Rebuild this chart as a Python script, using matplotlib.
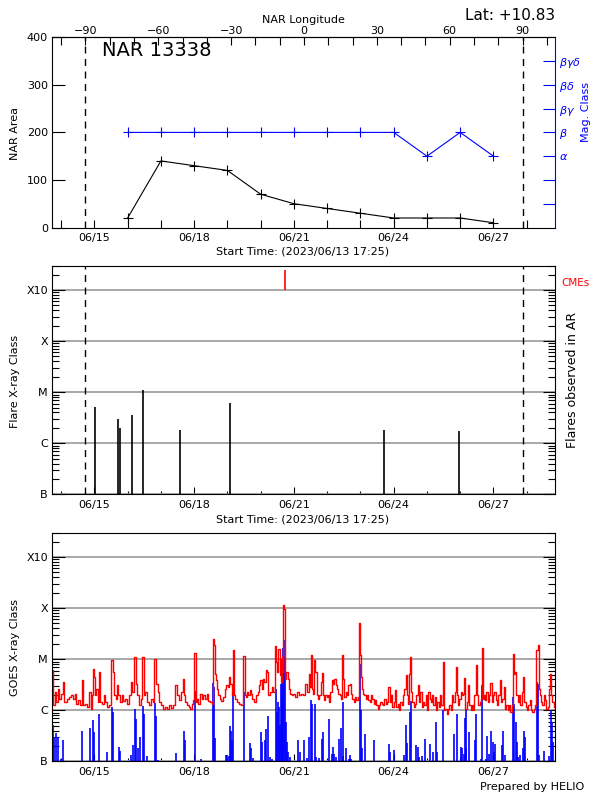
import numpy as np
import matplotlib
matplotlib.use('Agg')
import matplotlib.pyplot as plt
import matplotlib.dates as mdates
from matplotlib.ticker import FixedLocator, MultipleLocator, LogLocator, NullFormatter

# time range of the summary plot
t_start = '2023-06-13T17:25'
t_end = '2023-06-28T20:25'
limb_east = '2023-06-14T17:30'    # NAR longitude -90
limb_west = '2023-06-27T21:00'    # NAR longitude +90

# NAR 13338 daily values
nar_dates = ['2023-06-16', '2023-06-17', '2023-06-18', '2023-06-19', '2023-06-20', '2023-06-21',
             '2023-06-22', '2023-06-23', '2023-06-24', '2023-06-25', '2023-06-26', '2023-06-27']
nar_area = [20, 140, 130, 120, 70, 50, 40, 30, 20, 20, 20, 10]
mag_class = ['beta', 'beta', 'beta', 'beta', 'beta', 'beta', 'beta', 'beta', 'beta',
             'alpha', 'beta', 'alpha']
mag_names = ['', '', 'alpha', 'beta', 'beta-gamma', 'beta-delta', 'beta-gamma-delta']
mag_labels = ['', '', r'$\alpha$', r'$\beta$', r'$\beta\gamma$', r'$\beta\delta$', r'$\beta\gamma\delta$']
lon_ticks = [-90, -60, -30, 0, 30, 60, 90]

# flares observed in the AR, and CMEs
flare_times = ['2023-06-15T00:25', '2023-06-15T17:15', '2023-06-15T18:40', '2023-06-16T03:20',
               '2023-06-16T10:50', '2023-06-17T13:55', '2023-06-19T01:55', '2023-06-23T16:55',
               '2023-06-25T22:57']
flare_class = ['C5.1', 'C3.0', 'C2.0', 'C3.6', 'M1.1', 'C1.8', 'C6.2', 'C1.8', 'C1.7']
cme_times = ['2023-06-20T17:45']

class_names = ['B', 'C', 'M', 'X', 'X10']
class_flux = [1e-7, 1e-6, 1e-5, 1e-4, 1e-3]

# GOES X-ray flux, time in days from 2023-06-13 00:00, flux in uW/m^2
goes_day0 = '2023-06-13T00:00'
long_t = [0.73, 0.79, 0.84, 0.88, 0.92, 0.97, 1.02, 1.07, 1.11, 1.16,
          1.22, 1.28, 1.33, 1.38, 1.43, 1.48, 1.54, 1.60, 1.65, 1.68,
          1.75, 1.82, 1.88, 1.91, 1.94, 1.97, 2.00, 2.04, 2.08, 2.12,
          2.16, 2.20, 2.26, 2.30, 2.36, 2.42, 2.48, 2.54, 2.58, 2.62,
          2.66, 2.70, 2.75, 2.80, 2.85, 2.90, 2.96, 3.02, 3.08, 3.13,
          3.16, 3.22, 3.26, 3.30, 3.36, 3.42, 3.46, 3.50, 3.55, 3.60,
          3.66, 3.72, 3.78, 3.83, 3.88, 3.92, 3.98, 4.04, 4.10, 4.16,
          4.22, 4.28, 4.34, 4.40, 4.46, 4.52, 4.58,
          4.60, 4.63, 4.67, 4.71, 4.75, 4.81, 4.87, 4.91, 4.95, 4.99,
          5.03, 5.06, 5.11, 5.15, 5.20, 5.25, 5.30, 5.35, 5.40, 5.45,
          5.51, 5.55, 5.57, 5.61, 5.63, 5.67, 5.71, 5.75, 5.79, 5.85,
          5.91, 5.95, 5.99, 6.03, 6.07, 6.11, 6.15, 6.18, 6.21, 6.27,
          6.33, 6.39, 6.45, 6.50, 6.53, 6.57, 6.61, 6.65, 6.69, 6.73,
          6.77, 6.83, 6.89, 6.93, 6.97, 7.01, 7.05, 7.09, 7.13, 7.17,
          7.21, 7.25, 7.31, 7.35, 7.41, 7.45, 7.48, 7.51, 7.55, 7.59,
          7.61, 7.65, 7.67, 7.69, 7.72, 7.75, 7.79, 7.83, 7.87, 7.91,
          7.95, 8.01, 8.07, 8.13, 8.19, 8.25, 8.31, 8.35,
          8.38, 8.42, 8.46, 8.49, 8.52, 8.56, 8.60, 8.63, 8.66, 8.70,
          8.74, 8.78, 8.82, 8.85, 8.88, 8.92, 8.96, 9.00, 9.04, 9.08,
          9.12, 9.16, 9.20, 9.24, 9.28, 9.32, 9.36, 9.40, 9.43, 9.47,
          9.50, 9.54, 9.58, 9.62, 9.66, 9.70, 9.74, 9.78, 9.82, 9.86,
          9.90, 9.94, 9.98, 10.00, 10.03, 10.06, 10.10, 10.14, 10.18, 10.22,
          10.26, 10.30, 10.34, 10.38, 10.42, 10.46, 10.50, 10.54, 10.58, 10.62,
          10.66, 10.70, 10.74, 10.78, 10.82, 10.86, 10.90, 10.94, 10.98, 11.02,
          11.06, 11.10, 11.14, 11.18, 11.22, 11.26, 11.30, 11.34, 11.38, 11.42,
          11.46, 11.49, 11.51, 11.54, 11.58, 11.62, 11.66, 11.70, 11.74, 11.78,
          11.82, 11.86, 11.90, 11.94, 11.98, 12.02, 12.06, 12.10,
          12.13, 12.17, 12.21, 12.25, 12.29, 12.33, 12.37, 12.41, 12.45, 12.49,
          12.53, 12.57, 12.61, 12.65, 12.69, 12.73, 12.77, 12.81, 12.85, 12.88,
          12.91, 12.95, 12.99, 13.03, 13.07, 13.11, 13.14, 13.17, 13.21, 13.25,
          13.29, 13.33, 13.37, 13.41, 13.45, 13.49, 13.53, 13.57, 13.61, 13.65,
          13.67, 13.70, 13.73, 13.77, 13.81, 13.85, 13.89, 13.93, 13.97, 14.01,
          14.05, 14.09, 14.13, 14.17, 14.21, 14.25, 14.29, 14.33, 14.37, 14.41,
          14.45, 14.49, 14.53, 14.57, 14.60, 14.63, 14.67, 14.71, 14.75, 14.79,
          14.83, 14.87, 14.91, 14.95, 14.99, 15.03, 15.07, 15.11, 15.15, 15.19,
          15.23, 15.27, 15.31, 15.34, 15.37, 15.41, 15.45, 15.49, 15.53, 15.57,
          15.61, 15.65, 15.69, 15.73, 15.76, 15.79, 15.83, 15.86]
long_f = [6.1, 1.25, 2.29, 1.46, 2.66, 1.69, 2.12, 3.59, 1.46, 1.46,
          1.69, 1.83, 1.97, 1.69, 2.06, 1.35, 1.57, 1.29, 3.88, 1.25,
          1.35, 1.16, 2.29, 1.08, 1.97, 6.56, 4.50, 1.97, 2.66, 1.46,
          5.65, 1.46, 1.35, 1.97, 1.46, 1.16, 1.25, 9.85, 5.65, 1.97,
          1.69, 3.09, 1.97, 1.46, 1.97, 1.50, 1.69, 1.35, 1.97, 3.59,
          2.29, 10.8, 3.33, 1.97, 1.25, 1.69, 10.8, 1.97, 2.29, 1.46,
          1.25, 1.69, 1.46, 10.3, 3.33, 2.29, 1.46, 1.25, 1.08, 1.16,
          1.08, 1.25, 1.11, 1.25, 3.09, 1.97, 1.57,
          1.97, 2.29, 4.18, 1.97, 1.46, 1.25, 1.16, 1.08, 1.35, 1.57,
          13.5, 1.46, 1.69, 1.35, 2.12, 1.69, 1.97, 1.69, 2.12, 1.50,
          1.46, 1.35, 25.4, 18.8, 5.24, 3.88, 2.66, 1.97, 1.69, 1.50,
          1.83, 2.66, 3.09, 2.87, 4.50, 3.33, 1.97, 15.0, 1.97, 1.69,
          1.46, 1.35, 1.25, 11.6, 1.97, 1.83, 2.29, 1.97, 2.47, 2.12,
          1.69, 1.46, 1.97, 2.29, 3.09, 3.88, 2.66, 4.18, 3.59, 6.09,
          5.65, 1.97, 2.29, 2.87, 2.29, 18.3, 8.87, 5.65, 15.7, 4.86,
          3.59, 11.1, 5.65, 114, 98, 4.18, 5.65, 4.18, 2.66, 2.12,
          1.97, 2.12, 1.83, 2.29, 1.97, 2.12, 1.97, 3.33,
          3.33, 2.29, 5.24, 2.87, 12.0, 2.66, 2.12, 9.55, 5.65, 1.97,
          1.69, 1.97, 3.59, 5.48, 1.97, 1.57, 1.97, 1.83, 1.97, 1.46,
          2.29, 3.88, 3.33, 4.18, 3.09, 2.66, 2.12, 1.97, 1.69, 12.0,
          4.18, 1.83, 2.29, 1.97, 3.09, 3.33, 2.12, 1.69, 1.46, 1.83,
          1.57, 1.83, 50, 12.0, 4.50, 2.66, 2.12, 1.97, 1.69, 1.97,
          1.57, 1.46, 1.97, 1.69, 1.35, 1.57, 1.25, 1.08, 1.25, 1.46,
          1.35, 1.25, 1.69, 1.35, 1.46, 2.87, 1.46, 1.97, 1.16, 1.46,
          2.47, 1.16, 1.35, 1.00, 1.46, 1.25, 1.97, 2.66, 4.86, 1.97,
          1.35, 5.24, 11.1, 2.29, 1.46, 1.16, 1.35, 1.97, 3.09, 1.46,
          2.29, 1.16, 1.46, 1.25, 1.97, 1.00, 2.29, 1.69,
          1.46, 1.97, 1.25, 1.83, 1.00, 1.46, 1.16, 1.97, 1.25, 8.87,
          1.00, 1.08, 0.86, 1.08, 1.25, 1.00, 1.97, 1.46, 2.29, 7.08,
          1.97, 1.25, 1.69, 2.29, 1.97, 2.12, 4.31, 1.08, 1.46, 3.09,
          1.25, 1.00, 1.25, 1.00, 1.97, 7.63, 1.97, 1.25, 1.46, 1.69,
          16.2, 1.69, 1.97, 1.57, 2.29, 1.46, 1.97, 3.49, 1.46, 1.97,
          2.29, 1.57, 1.25, 1.97, 3.88, 1.46, 1.69, 2.87, 1.08, 1.25,
          1.00, 1.25, 0.93, 1.25, 12.9, 5.24, 5.65, 1.97, 1.46, 1.97,
          1.25, 2.29, 4.50, 1.46, 1.16, 1.00, 1.25, 1.57, 1.00, 0.93,
          1.08, 1.25, 15.0, 18.8, 2.66, 1.97, 1.46, 1.25, 1.97, 1.57,
          1.08, 1.16, 2.66, 5.24, 1.97, 1.46, 1.16, 1.08]

short_t = [0.76, 0.80, 0.86, 0.90, 1.00, 1.07, 1.64, 1.88, 1.96, 1.99,
           2.15, 2.38, 2.54, 2.57, 2.73, 2.76, 3.11, 3.15, 3.22, 3.26,
           3.30, 3.38, 3.45, 3.48, 3.57, 3.83, 3.86, 3.92, 4.46, 4.70,
           4.73, 5.02, 5.21, 5.57, 5.60, 5.63, 5.95, 6.00, 6.05, 6.08,
           6.12, 6.15, 6.18, 6.50, 6.68, 6.71, 6.77, 7.01, 7.05, 7.13,
           7.17, 7.21, 7.27, 7.35, 7.45, 7.48, 7.51, 7.55, 7.58, 7.61,
           7.63, 7.65, 7.68, 7.70, 7.73, 7.75, 7.79, 7.83, 7.87, 8.11,
           8.17, 8.31, 8.40, 8.45, 8.51, 8.54, 8.64, 8.67, 8.75, 8.84,
           8.87, 9.05, 9.14, 9.17, 9.20, 9.26, 9.35, 9.43, 9.47, 9.49,
           9.56, 9.65, 9.68, 9.73, 9.98, 10.01, 10.04, 10.13, 10.40, 10.85,
           10.88, 11.00, 11.30, 11.36, 11.39, 11.48, 11.51, 11.66, 11.72, 11.75,
           11.84, 11.94, 12.08, 12.17, 12.28, 12.30, 12.49, 12.81, 12.89, 13.01,
           13.03, 13.06, 13.10, 13.13, 13.16, 13.18, 13.25, 13.45, 13.49, 13.63,
           13.67, 13.79, 13.82, 13.87, 13.94, 13.98, 14.02, 14.05, 14.25, 14.28,
           14.35, 14.60, 14.63, 14.67, 14.71, 14.75, 14.81, 14.88, 14.92, 14.95,
           15.31, 15.34, 15.37, 15.52, 15.68, 15.73, 15.76, 15.79]
short_f = [0.51, 0.30, 0.36, 0.30, 0.113, 0.26, 0.39, 0.44, 0.64, 0.38,
           0.86, 0.15, 1.16, 0.93, 0.19, 0.16, 0.135, 0.21, 1.08, 0.66,
           0.18, 0.30, 1.20, 0.86, 0.127, 1.39, 0.77, 0.105, 0.146, 0.40,
           0.26, 2.36, 0.113, 3.49, 2.87, 0.28, 0.13, 0.135, 0.127, 0.49,
           0.40, 0.26, 2.87, 2.29, 0.23, 0.18, 0.116, 0.38, 0.24, 0.26,
           0.42, 0.77, 0.12, 0.113, 2.66, 0.93, 1.46, 1.16, 0.51, 3.33,
           1.97, 10.3, 16.2, 23.6, 11.1, 0.59, 0.24, 0.15, 0.12, 0.26,
           0.15, 0.26, 0.118, 0.30, 1.57, 1.35, 1.35, 0.12, 0.116, 0.27,
           0.37, 0.66, 0.14, 0.19, 0.14, 0.12, 0.27, 0.44, 1.46, 0.127,
           0.18, 0.113, 0.135, 0.113, 8.2, 1.00, 0.18, 0.35, 0.26, 0.22,
           0.15, 0.17, 0.135, 0.51, 0.23, 0.93, 1.50, 0.21, 0.19, 0.12,
           0.127, 0.27, 0.22, 0.15, 0.59, 0.15, 1.00, 0.35, 0.86, 0.12,
           0.19, 0.18, 0.14, 0.69, 1.08, 0.18, 0.38, 0.26, 0.86, 0.113,
           3.09, 0.113, 0.32, 0.14, 0.40, 0.24, 0.15, 0.22, 0.21, 0.40,
           0.13, 1.83, 1.35, 0.59, 0.24, 0.12, 0.13, 0.18, 0.39, 0.30,
           3.59, 3.33, 0.13, 0.16, 0.127, 1.00, 0.59, 0.24]


def to_num(s):
    return mdates.date2num(np.datetime64(s))


def class_to_flux(c):
    return {'B': 1e-7, 'C': 1e-6, 'M': 1e-5, 'X': 1e-4}[c[0]] * float(c[1:])


x0, x1 = to_num(t_start), to_num(t_end)
xe, xw = to_num(limb_east), to_num(limb_west)
day0 = to_num(goes_day0)


def date_to_lon(x):
    return -90 + 180 * (np.asarray(x) - xe) / (xw - xe)


def lon_to_date(lon):
    return xe + (np.asarray(lon) + 90) * (xw - xe) / 180


def px(x, y):
    # figure fraction from pixel position on the 600x800 canvas
    return x / 600, 1 - y / 800


fs = 8
dash = (0, (5, 4))

fig = plt.figure(figsize=(6, 8), dpi=100)


def date_axis(ax, major_len, minor_len):
    ax.set_xlim(x0, x1)
    ax.xaxis.set_major_locator(mdates.DayLocator(bymonthday=[15, 18, 21, 24, 27]))
    ax.xaxis.set_minor_locator(mdates.DayLocator())
    ax.xaxis.set_major_formatter(mdates.DateFormatter('%m/%d'))
    ax.tick_params(axis='x', which='major', direction='in', length=major_len, width=0.8,
                   labelsize=fs, pad=4, top=False)
    ax.tick_params(axis='x', which='minor', direction='in', length=minor_len, width=0.8, top=False)


def class_axis(ax):
    ax.set_yscale('log')
    ax.set_ylim(1e-7, 3e-3)
    ax.yaxis.set_major_locator(FixedLocator(class_flux))
    ax.set_yticklabels(class_names)
    ax.yaxis.set_minor_locator(LogLocator(base=10, subs=(2, 3, 4, 5, 6, 7, 8, 9), numticks=20))
    ax.yaxis.set_minor_formatter(NullFormatter())
    ax.tick_params(axis='y', which='major', direction='in', length=9, width=0.8,
                   labelsize=fs, pad=3, left=True, right=True)
    ax.tick_params(axis='y', which='minor', direction='in', length=5, width=0.8,
                   left=True, right=True)
    ax.grid(axis='y', which='major', color='0.6', lw=1.2)
    ax.set_axisbelow(True)


# ---------------- panel 1: NAR area and magnetic class ----------------
ax1 = fig.add_axes([52 / 600, 1 - 227.5 / 800, 503 / 600, 190.2 / 800])
nar_x = [to_num(d) for d in nar_dates]
ax1.plot(nar_x, nar_area, color='black', lw=0.8, marker='+', ms=7, mew=0.8)
ax1.set_ylim(0, 400)
ax1.set_yticks([0, 100, 200, 300, 400])
ax1.tick_params(axis='y', direction='in', length=9, width=0.8, labelsize=fs, pad=3)
date_axis(ax1, 6, 6)
ax1.axvline(xe, color='black', lw=1, ls=dash)
ax1.axvline(xw, color='black', lw=1, ls=dash)
ax1.text(0.1, 0.93, 'NAR 13338', transform=ax1.transAxes, fontsize=14, va='center', ha='left')
ax1.spines['right'].set_visible(False)

axm = ax1.twinx()
axm.set_ylim(-1, 7)
axm.plot(nar_x, [mag_names.index(c) for c in mag_class], color='blue', lw=0.8,
         marker='+', ms=7, mew=0.8)
axm.set_yticks(range(len(mag_labels)))
axm.set_yticklabels(mag_labels)
axm.tick_params(axis='y', direction='in', length=9, width=0.8, colors='blue', labelsize=fs, pad=3)
axm.spines['right'].set_color('blue')
for s in ['left', 'top', 'bottom']:
    axm.spines[s].set_visible(False)

lon = ax1.secondary_xaxis('top', functions=(date_to_lon, lon_to_date))
lon.xaxis.set_major_locator(FixedLocator(lon_ticks))
lon.xaxis.set_minor_locator(MultipleLocator(10))
lon.tick_params(which='both', direction='in', length=6, width=0.8, labelsize=fs, pad=1)

fig.text(*px(303, 20), 'NAR Longitude', ha='center', va='center', fontsize=fs)
fig.text(*px(555, 15), 'Lat: +10.83', ha='right', va='center', fontsize=11)
fig.text(*px(15, 133), 'NAR Area', ha='center', va='center', rotation=90, fontsize=fs)
fig.text(*px(586, 112), 'Mag. Class', ha='center', va='center', rotation=90, fontsize=fs,
         color='blue')
fig.text(*px(303, 252), 'Start Time: (2023/06/13 17:25)', ha='center', va='center', fontsize=fs)

# ---------------- panel 2: flares in the AR ----------------
ax2 = fig.add_axes([52 / 600, 1 - 494.3 / 800, 503 / 600, 228.6 / 800])
class_axis(ax2)
date_axis(ax2, 5, 2)
flare_x = [to_num(t) for t in flare_times]
ax2.vlines(flare_x, 1e-7, [class_to_flux(c) for c in flare_class], color='black', lw=1.2)
ax2.vlines([to_num(t) for t in cme_times], 1e-3, 2.5e-3, color='red', lw=1.2)
ax2.axvline(xe, color='black', lw=1, ls=dash)
ax2.axvline(xw, color='black', lw=1, ls=dash)

fig.text(*px(15, 381), 'Flare X-ray Class', ha='center', va='center', rotation=90, fontsize=fs)
fig.text(*px(573, 380), 'Flares observed in AR', ha='center', va='center', rotation=90,
         fontsize=9)
fig.text(*px(561, 283), 'CMEs', ha='left', va='center', fontsize=7.5, color='red')
fig.text(*px(303, 519), 'Start Time: (2023/06/13 17:25)', ha='center', va='center', fontsize=fs)

# ---------------- panel 3: GOES X-ray flux ----------------
ax3 = fig.add_axes([52 / 600, 1 - 761.3 / 800, 503 / 600, 228.6 / 800])
class_axis(ax3)
date_axis(ax3, 5, 2)
ax3.vlines(day0 + np.array(short_t), 1e-9, np.array(short_f) * 1e-6, color='blue', lw=1.2)
ax3.plot(day0 + np.array(long_t), np.array(long_f) * 1e-6, color='red', lw=1.0,
         drawstyle='steps-mid')
ax3.set_xlim(x0, x1)

fig.text(*px(15, 647), 'GOES X-ray Class', ha='center', va='center', rotation=90, fontsize=fs)
fig.text(*px(584, 787), 'Prepared by HELIO', ha='right', va='center', fontsize=fs)

fig.savefig('out.png', dpi=100, facecolor='white')
